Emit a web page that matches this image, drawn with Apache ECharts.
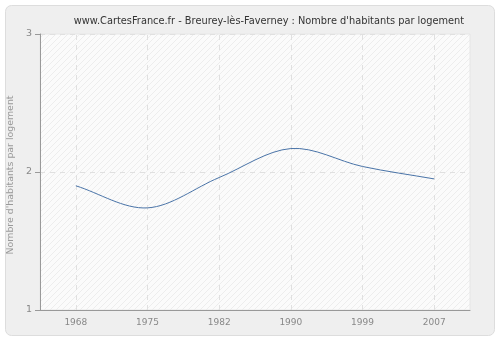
<!DOCTYPE html>
<html><head><meta charset="utf-8">
<script src="https://cdn.jsdelivr.net/npm/echarts@6/dist/echarts.min.js"></script>
<style>html,body{margin:0;padding:0;background:#fff;}#c{width:500px;height:340px;}</style>
</head><body><div id="c"></div>
<script>
var title = "www.CartesFrance.fr - Breurey-lès-Faverney : Nombre d'habitants par logement";
var yAxisName = "Nombre d'habitants par logement";
var categories = ["1968", "1975", "1982", "1990", "1999", "2007"];
var values = [1.90, 1.74, 1.96, 2.17, 2.04, 1.95];
var yTicks = [1, 2, 3];

var pc = document.createElement('canvas');
pc.width = 6; pc.height = 6;
var g = pc.getContext('2d');
g.fillStyle = '#fbfbfb'; g.fillRect(0, 0, 6, 6);
g.strokeStyle = '#ededed'; g.lineWidth = 1;
g.beginPath(); g.moveTo(0, 6); g.lineTo(6, 0); g.stroke();
g.beginPath(); g.moveTo(-1, 1); g.lineTo(1, -1); g.stroke();
g.beginPath(); g.moveTo(5, 7); g.lineTo(7, 5); g.stroke();

var gridLines = categories.map(function (c) { return {xAxis: c}; });
var seriesData = values.map(function (v, i) { return [i, v]; });

function renderSegment(params, api) {
  var i = params.dataIndex;
  var n = seriesData.length;
  if (i >= n - 1) return null;
  function pt(k) { return api.coord(seriesData[k]); }
  var p0 = pt(i), p1 = pt(i + 1);
  function tangent(k) {
    var a = pt(Math.max(k - 1, 0)), b = pt(Math.min(k + 1, n - 1));
    var d = (k === 0 || k === n - 1) ? 1 : 2;
    return [(b[0] - a[0]) / d, (b[1] - a[1]) / d];
  }
  var t0 = tangent(i), t1 = tangent(i + 1);
  return {
    type: 'bezierCurve',
    shape: {
      x1: p0[0], y1: p0[1], x2: p1[0], y2: p1[1],
      cpx1: p0[0] + t0[0] / 3, cpy1: p0[1] + t0[1] / 3,
      cpx2: p1[0] - t1[0] / 3, cpy2: p1[1] - t1[1] / 3
    },
    style: {stroke: '#4a74a8', fill: null, lineWidth: 1}
  };
}

var chart = echarts.init(document.getElementById('c'), null, {renderer: 'canvas'});
chart.setOption({
  backgroundColor: '#ffffff',
  animation: false,
  graphic: [{
    type: 'rect', z: -10, silent: true,
    shape: {x: 5.5, y: 5.5, width: 489, height: 330, r: 6},
    style: {fill: '#efefef', stroke: '#dddddd', lineWidth: 1}
  }],
  title: {
    text: title, left: 264, top: 11, textAlign: 'center',
    textStyle: {fontFamily: 'DejaVu Sans', fontSize: 9.8, fontWeight: 'normal', color: '#333333'}
  },
  grid: {
    left: 40, top: 34, width: 430, height: 276, containLabel: false, outerBoundsMode: 'none',
    show: true, backgroundColor: {image: pc, repeat: 'repeat'}, borderColor: '#e6e6e6', borderWidth: 1
  },
  xAxis: {
    type: 'category', data: categories, boundaryGap: true,
    axisLine: {lineStyle: {color: '#999999'}},
    axisTick: {alignWithLabel: true, length: 5, lineStyle: {color: '#999999'}},
    axisLabel: {color: '#888888', fontFamily: 'DejaVu Sans', fontSize: 9, margin: 8},
    splitLine: {show: false}
  },
  yAxis: {
    type: 'value', min: yTicks[0], max: yTicks[yTicks.length - 1], interval: 1,
    name: yAxisName, nameLocation: 'middle', nameGap: 23,
    nameTextStyle: {color: '#999999', fontFamily: 'DejaVu Sans', fontSize: 9.4, padding: [0, 0, 0, -6]},
    axisLine: {show: true, lineStyle: {color: '#999999'}},
    axisTick: {show: true, length: 5, lineStyle: {color: '#999999'}},
    axisLabel: {color: '#888888', fontFamily: 'DejaVu Sans', fontSize: 9.5, margin: 8},
    splitLine: {show: true, lineStyle: {color: '#e0e0e0', type: [5, 5]}}
  },
  series: [{
    type: 'custom', data: seriesData, renderItem: renderSegment,
    encode: {x: 0, y: 1}, z: 3,
    markLine: {
      silent: true, symbol: 'none', label: {show: false}, z: 1,
      lineStyle: {color: '#e0e0e0', type: [5, 5], width: 1},
      data: gridLines
    }
  }]
});
</script></body></html>
